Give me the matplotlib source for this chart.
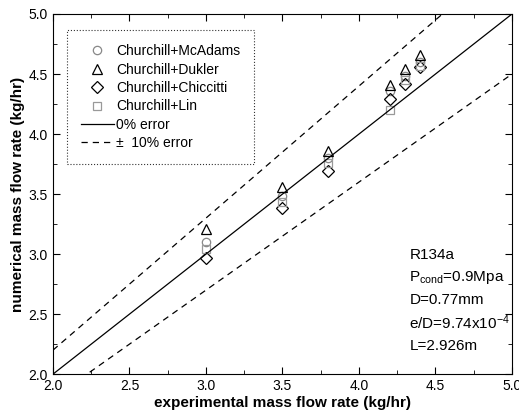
import matplotlib
matplotlib.use("Agg")
import matplotlib.pyplot as plt
import numpy as np
from matplotlib.ticker import MultipleLocator

plt.rcParams['font.family'] = ['Liberation Sans', 'DejaVu Sans']
plt.rcParams['mathtext.fontset'] = 'custom'
plt.rcParams['mathtext.rm'] = 'Liberation Sans'
plt.rcParams['mathtext.it'] = 'Liberation Sans:italic'

exp_x = [3.0, 3.5, 3.8, 4.2, 4.3, 4.4]
mcadams = [3.10, 3.48, 3.80, 4.36, 4.48, 4.60]
dukler = [3.21, 3.56, 3.86, 4.41, 4.54, 4.66]
chiccitti = [2.97, 3.38, 3.69, 4.29, 4.42, 4.56]
lin = [3.04, 3.43, 3.76, 4.20, 4.45, 4.57]

fig = plt.figure(figsize=(5.19, 4.19), dpi=100)
ax = fig.add_axes([0.102, 0.107, 0.8845, 0.8596])

line_x = np.array([2.0, 5.0])
ax.plot(exp_x, mcadams, linestyle='none', marker='o', ms=6, mfc='none', mec='#888888', mew=0.9, label='Churchill+McAdams')
ax.plot(exp_x, dukler, linestyle='none', marker='^', ms=7, mfc='none', mec='black', mew=0.9, label='Churchill+Dukler')
ax.plot(exp_x, chiccitti, linestyle='none', marker='D', ms=6, mfc='none', mec='black', mew=0.9, label='Churchill+Chiccitti')
ax.plot(exp_x, lin, linestyle='none', marker='s', ms=5.5, mfc='none', mec='#999999', mew=0.9, label='Churchill+Lin')
ax.plot(line_x, line_x, color='black', lw=0.9, label='0% error')
ax.plot(line_x, 1.1 * line_x, color='black', lw=0.9, ls=(0, (5, 4)), label='\u00b1  10% error')
ax.plot(line_x, 0.9 * line_x, color='black', lw=0.9, ls=(0, (5, 4)))

ax.set_xlim(2.0, 5.0)
ax.set_ylim(2.0, 5.0)
ax.xaxis.set_major_locator(MultipleLocator(0.5))
ax.yaxis.set_major_locator(MultipleLocator(0.5))
ax.xaxis.set_minor_locator(MultipleLocator(0.25))
ax.yaxis.set_minor_locator(MultipleLocator(0.25))
ax.tick_params(which='both', direction='in', top=True, right=True, labelsize=10)
ax.tick_params(which='major', length=5)
ax.tick_params(which='minor', length=3)
ax.xaxis.set_major_formatter(matplotlib.ticker.FormatStrFormatter('%.1f'))
ax.yaxis.set_major_formatter(matplotlib.ticker.FormatStrFormatter('%.1f'))

ax.set_xlabel('experimental mass flow rate (kg/hr)', fontsize=11, fontweight='bold', labelpad=2)
ax.set_ylabel('numerical mass flow rate (kg/hr)', fontsize=11, fontweight='bold', labelpad=3)

leg = ax.legend(loc='upper left', bbox_to_anchor=(0.03, 0.955), borderaxespad=0,
                fontsize=10, frameon=True, fancybox=False, handlelength=2.4,
                labelspacing=0.32, borderpad=1.0, handletextpad=0.15)
leg.get_frame().set_edgecolor('black')
leg.get_frame().set_linewidth(0.8)
leg.get_frame().set_linestyle(':')

txt = ['R134a', r'P$_{\mathrm{cond}}$=0.9Mpa', 'D=0.77mm', r'e/D=9.74x10$^{-4}$', 'L=2.926m']
for i, t in enumerate(txt):
    ax.text(4.33, 2.99 - i * 0.188, t, fontsize=11, va='center', ha='left')

fig.savefig('out.png', dpi=100)
